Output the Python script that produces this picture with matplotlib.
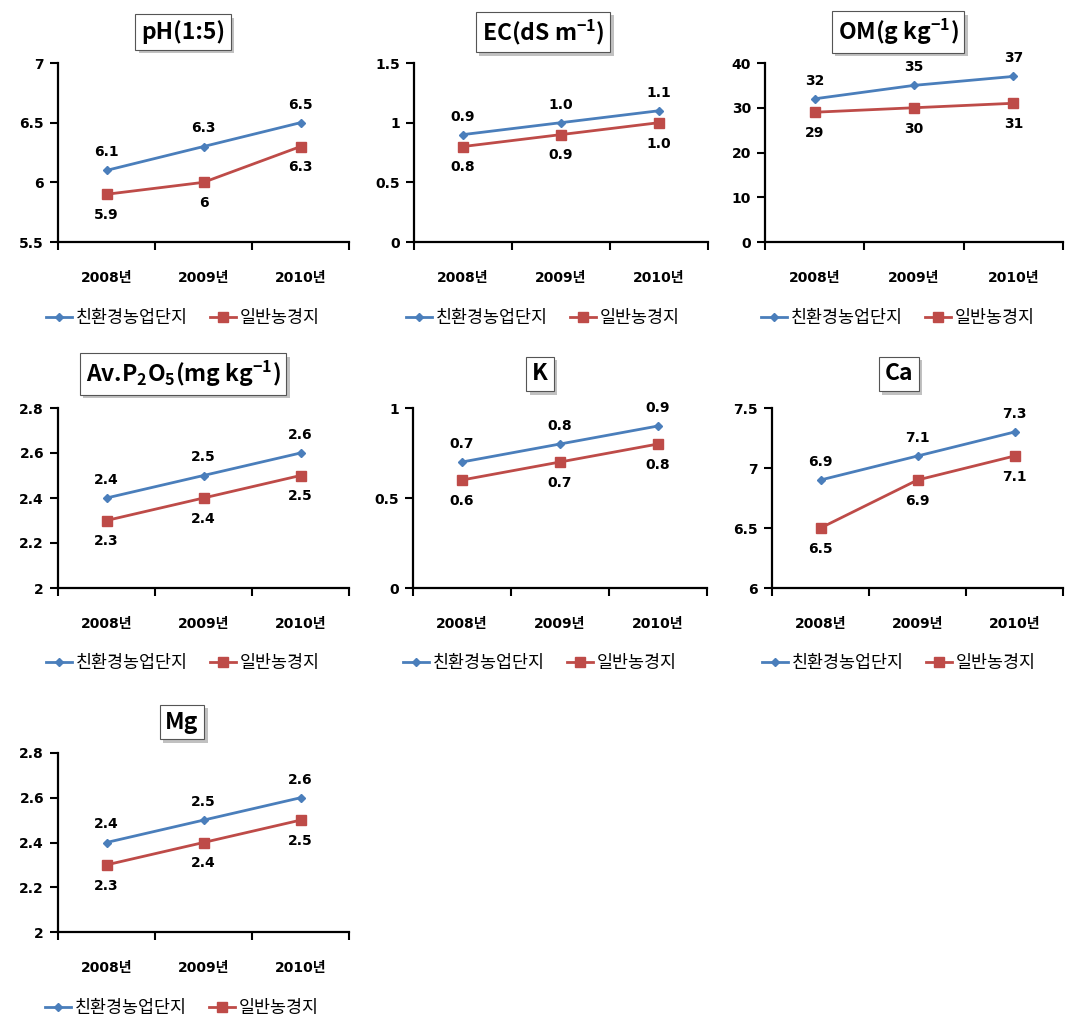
import matplotlib
matplotlib.use('Agg')
import matplotlib.pyplot as plt
from matplotlib import patheffects as pe
from matplotlib.ticker import FixedLocator, NullFormatter

plt.rcParams['font.family'] = ['DejaVu Sans', 'Noto Sans CJK KR']
plt.rcParams['mathtext.default'] = 'regular'
TITLE_FONT = ['Noto Sans CJK KR', 'DejaVu Sans']

# ---------------- data ----------------
years = ['2008년', '2009년', '2010년']
series_names = ['친환경농업단지', '일반농경지']

ph_eco = [6.1, 6.3, 6.5]
ph_gen = [5.9, 6.0, 6.3]
ec_eco = [0.9, 1.0, 1.1]
ec_gen = [0.8, 0.9, 1.0]
om_eco = [32, 35, 37]
om_gen = [29, 30, 31]
p_eco = [2.4, 2.5, 2.6]
p_gen = [2.3, 2.4, 2.5]
k_eco = [0.7, 0.8, 0.9]
k_gen = [0.6, 0.7, 0.8]
ca_eco = [6.9, 7.1, 7.3]
ca_gen = [6.5, 6.9, 7.1]
mg_eco = [2.4, 2.5, 2.6]
mg_gen = [2.3, 2.4, 2.5]

titles = ['pH(1:5)', r'EC(dS m$^{-1}$)', r'OM(g kg$^{-1}$)',
          r'Av.P$_2$O$_5$(mg kg$^{-1}$)', 'K', 'Ca', 'Mg']
yticks_list = [[5.5, 6, 6.5, 7], [0, 0.5, 1, 1.5], [0, 10, 20, 30, 40],
               [2, 2.2, 2.4, 2.6, 2.8], [0, 0.5, 1], [6, 6.5, 7, 7.5],
               [2, 2.2, 2.4, 2.6, 2.8]]
label_fmts = ['g', '.1f', '.0f', '.1f', '.1f', '.1f', '.1f']

# ---------------- layout (pixels) ----------------
W, H = 1085, 1026
# (left, right, top, bottom, title_x, title_y, legend_y)
layout = [
    (58, 349, 63, 242, 183, 32, 318),
    (414, 708, 63, 242, 543, 32, 318),
    (765, 1063, 63, 242, 898, 32, 318),
    (58, 349, 408, 588, 183, 374, 663),
    (413, 707, 408, 588, 540, 374, 663),
    (772, 1063, 408, 588, 899, 374, 663),
    (58, 349, 753, 932, 182, 722, 1008),
]

BLUE = '#4A7EBB'
RED = '#BE4B48'

eco_all = [ph_eco, ec_eco, om_eco, p_eco, k_eco, ca_eco, mg_eco]
gen_all = [ph_gen, ec_gen, om_gen, p_gen, k_gen, ca_gen, mg_gen]

fig = plt.figure(figsize=(W / 100, H / 100), dpi=100)

x = list(range(len(years)))
for i in range(7):
    l, r, t, b, tx, ty, ly = layout[i]
    ax = fig.add_axes([l / W, 1 - b / H, (r - l) / W, (b - t) / H])
    eco, gen = eco_all[i], gen_all[i]
    h1, = ax.plot(x, eco, color=BLUE, lw=2, marker='D', ms=4.5,
                  markeredgecolor=BLUE, label=series_names[0])
    h2, = ax.plot(x, gen, color=RED, lw=2, marker='s', ms=6.5,
                  markeredgecolor=RED, label=series_names[1])
    fmt = label_fmts[i]
    for xi, v in zip(x, eco):
        ax.annotate(format(v, fmt), (xi, v), xytext=(0, 13), textcoords='offset points',
                    ha='center', va='center', fontsize=10, fontweight='bold')
    for xi, v in zip(x, gen):
        ax.annotate(format(v, fmt), (xi, v), xytext=(0, -15), textcoords='offset points',
                    ha='center', va='center', fontsize=10, fontweight='bold')
    yt = yticks_list[i]
    ax.set_ylim(yt[0], yt[-1])
    ax.set_yticks(yt)
    ax.set_yticklabels([format(v, 'g') for v in yt], fontsize=10, fontweight='bold')
    ax.set_xlim(-0.5, len(years) - 0.5)
    ax.xaxis.set_major_locator(FixedLocator([-0.5 + k for k in range(len(years) + 1)]))
    ax.xaxis.set_major_formatter(NullFormatter())
    ax.set_xticks(x, minor=True)
    ax.set_xticklabels(years, minor=True, fontsize=10, fontweight='bold')
    ax.tick_params(axis='x', which='minor', length=0, pad=21)
    ax.tick_params(axis='x', which='major', length=6, width=1.5, direction='out')
    ax.tick_params(axis='y', length=6, width=1.5, direction='out', pad=4)
    for s in ['top', 'right']:
        ax.spines[s].set_visible(False)
    for s in ['left', 'bottom']:
        ax.spines[s].set_linewidth(1.6)
    ax.set_facecolor('none')

    txt = fig.text(tx / W, 1 - ty / H, titles[i], ha='center', va='center',
                   fontsize=16.5, fontweight='bold', family=TITLE_FONT,
                   bbox=dict(boxstyle='square,pad=0.25', facecolor='white',
                             edgecolor='#555555', linewidth=0.8))
    txt.get_bbox_patch().set_path_effects([
        pe.SimplePatchShadow(offset=(2.5, -2.5), shadow_rgbFace='#999999', alpha=0.6),
        pe.Normal()])

    fig.legend(handles=[h1, h2], loc='center', bbox_to_anchor=(tx / W, 1 - ly / H),
               ncol=2, frameon=False, fontsize=12.5, handlelength=1.5,
               handletextpad=0.2, columnspacing=1.3, borderaxespad=0)

fig.savefig('out.png', dpi=100)
